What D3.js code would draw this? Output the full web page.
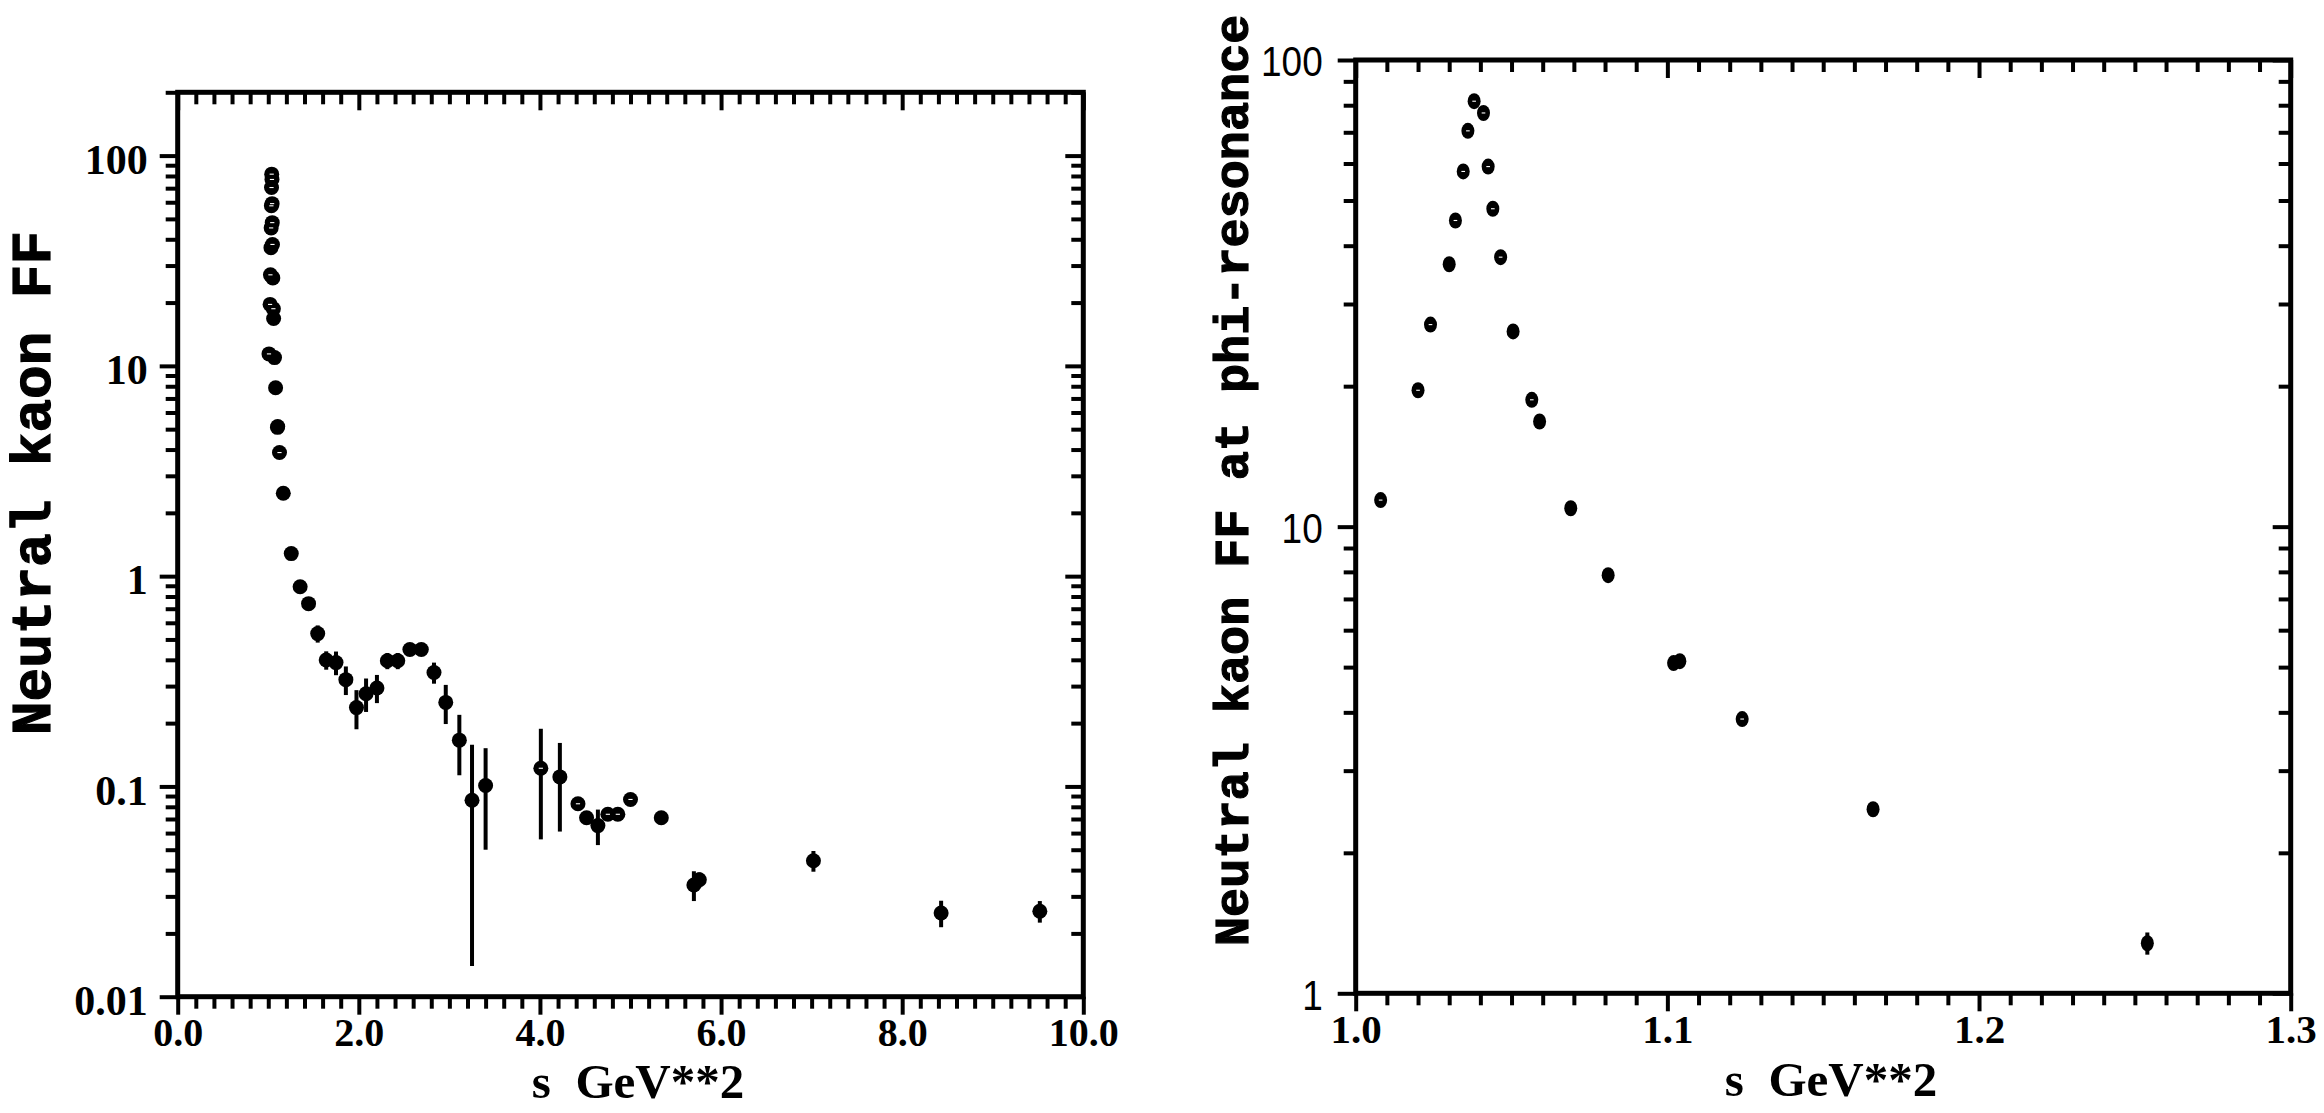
<!DOCTYPE html>
<html><head><meta charset="utf-8">
<script src="https://cdn.jsdelivr.net/npm/d3@7"></script>
<style>body{margin:0;background:#fff}svg{display:block}</style>
</head><body>
<svg id="chart" width="2324" height="1113"></svg>
<script>
// ---- phi-resonance region (shown in both panels) ----
const phiS      = [1.008, 1.020, 1.024, 1.030, 1.032, 1.0345, 1.036, 1.038, 1.041, 1.0425, 1.044, 1.0465, 1.0505, 1.0565, 1.059, 1.069, 1.081, 1.102, 1.104, 1.124, 1.166, 1.254];
const phiFF     = [11.4, 19.6, 27.1, 36.5, 45.3, 57.7, 70.5, 81.6, 77.0, 59.1, 48.0, 37.8, 26.2, 18.7, 16.8, 10.95, 7.87, 5.10, 5.15, 3.87, 2.48, 1.28];
const phiErr    = [0.3, 0.5, 0.6, 1.0, 0.8, 1.0, 1.2, 1.4, 1.3, 1.0, 0.9, 0.8, 0.7, 0.5, 0.5, 0.3, 0.2, 0.15, 0.15, 0.12, 0.08, 0.07];
const phiHollow = [1, 1, 1, 0, 1, 1, 1, 1, 1, 1, 1, 1, 0, 1, 0, 0, 0, 0, 0, 1, 0, 0];

// ---- higher-energy region (left panel only) ----
const highS      = [1.352, 1.445, 1.546, 1.64, 1.748, 1.857, 1.974, 2.08, 2.2, 2.315, 2.43, 2.564, 2.69, 2.83, 2.96, 3.11, 3.25, 3.40, 4.01, 4.22, 4.42, 4.515, 4.64, 4.75, 4.86, 5.0, 5.34, 5.70, 5.76, 7.02, 8.43, 9.52];
const highFF     = [0.89, 0.74, 0.533, 0.399, 0.388, 0.322, 0.237, 0.276, 0.294, 0.396, 0.396, 0.448, 0.448, 0.348, 0.251, 0.166, 0.086, 0.101, 0.122, 0.111, 0.0827, 0.071, 0.0651, 0.0737, 0.0737, 0.0867, 0.071, 0.034, 0.036, 0.0443, 0.025, 0.0255];
const highErr    = [0.03, 0.03, 0.05, 0.04, 0.05, 0.05, 0.05, 0.05, 0.045, 0.035, 0.035, 0.02, 0.02, 0.04, 0.053, 0.053, 0.072, 0.051, 0.066, 0.05, 0.003, 0.003, 0.0125, 0.005, 0.003, 0.003, 0.003, 0.0055, 0.003, 0.005, 0.0036, 0.003];
const highHollow = [0, 0, 0, 0, 0, 0, 0, 0, 0, 0, 0, 0, 0, 0, 0, 0, 0, 0, 1, 0, 1, 0, 0, 1, 1, 1, 0, 0, 0, 0, 0, 0];

// ---- axes ----
const leftXTicks  = [0, 2, 4, 6, 8, 10];
const leftXLabels = ["0.0", "2.0", "4.0", "6.0", "8.0", "10.0"];
const leftYTicks  = [0.01, 0.1, 1, 10, 100];
const leftYLabels = ["0.01", "0.1", "1", "10", "100"];
const rightXTicks  = [1.0, 1.1, 1.2, 1.3];
const rightXLabels = ["1.0", "1.1", "1.2", "1.3"];
const rightYTicks  = [1, 10, 100];
const rightYLabels = ["1", "10", "100"];
const xTitle = "s  GeV**2";
const leftYTitle = "Neutral kaon FF";
const rightYTitle = "Neutral kaon FF at phi-resonance";

const svg = d3.select("#chart");
svg.append("rect").attr("width", 2324).attr("height", 1113).attr("fill", "#fff");

const MINOR = 12, MAJOR = 18;
const serif = "'Liberation Serif', 'Times New Roman', serif";

function frame(g, x0, x1, y0, y1) {
  g.append("rect").attr("x", x0).attr("y", y0).attr("width", x1 - x0).attr("height", y1 - y0)
    .attr("fill", "none").attr("stroke", "#000").attr("stroke-width", 5);
}

function side(g, gen, scale, minorVals, majorVals, transform, labels) {
  const mk = (vals, size, fmtLabels) => {
    const a = gen(scale).tickValues(vals).tickSize(size).tickSizeOuter(0)
      .tickFormat(fmtLabels ? ((d, i) => fmtLabels[i]) : "");
    const ag = g.append("g").attr("transform", transform).style("color", "#000").call(a);
    ag.select(".domain").remove();
    ag.selectAll(".tick line").attr("stroke-width", 4);
    return ag;
  };
  mk(minorVals, MINOR, null);
  return mk(majorVals, MAJOR, labels);
}

function panel(cfg) {
  const g = svg.append("g");
  const x = d3.scaleLinear().domain(cfg.xDomain).range([cfg.x0, cfg.x1]);
  const y = d3.scaleLog().domain(cfg.yDomain).range([cfg.y1, cfg.y0]);

  const yMinor = y.ticks().filter(v => !cfg.yTicks.some(t => Math.abs(t - v) / t < 1e-6));
  const xMinor = x.ticks(cfg.xMinorCount).filter(v => !cfg.xTicks.some(t => Math.abs(t - v) < 1e-9));

  // bottom (outward, labelled)
  const b = side(g, d3.axisBottom, x, xMinor, cfg.xTicks, `translate(0,${cfg.y1})`, cfg.xLabels);
  b.selectAll(".tick text").attr("y", 21).attr("dy", "0.71em")
    .style("font-family", serif).style("font-weight", "bold").style("font-size", cfg.xFont + "px");
  // top (inward)
  side(g, d3.axisBottom, x, xMinor, cfg.xTicks, `translate(0,${cfg.y0})`, null);
  // left (outward, labelled)
  const l = side(g, d3.axisLeft, y, yMinor, cfg.yTicks, `translate(${cfg.x0},0)`, cfg.yLabels);
  cfg.styleY(l.selectAll(".tick text"));
  // right (inward)
  side(g, d3.axisLeft, y, yMinor, cfg.yTicks, `translate(${cfg.x1},0)`, null);

  frame(g, cfg.x0, cfg.x1, cfg.y0, cfg.y1);

  // data
  const pts = cfg.s.map((s, i) => ({ s, v: cfg.ff[i], e: cfg.err[i], h: cfg.hollow[i] }))
    .filter(p => p.s >= cfg.xDomain[0] && p.s <= cfg.xDomain[1]);
  const d = g.append("g");
  d.selectAll("line.err").data(pts).join("line").attr("class", "err")
    .attr("x1", p => x(p.s)).attr("x2", p => x(p.s))
    .attr("y1", p => y(p.v + p.e)).attr("y2", p => y(Math.max(p.v - p.e, cfg.yDomain[0])))
    .attr("stroke", "#000").attr("stroke-width", 4);
  d.selectAll("ellipse").data(pts).join("ellipse")
    .attr("cx", p => x(p.s)).attr("cy", p => y(p.v))
    .attr("rx", cfg.rx).attr("ry", cfg.ry).attr("fill", "#000");
  d.selectAll("line.hole").data(pts.filter(p => p.h)).join("line").attr("class", "hole")
    .attr("x1", p => x(p.s) - cfg.rx * 0.28).attr("x2", p => x(p.s) + cfg.rx * 0.28)
    .attr("y1", p => y(p.v)).attr("y2", p => y(p.v))
    .attr("stroke", "#fff").attr("stroke-width", 1.1);

  // titles
  g.append("text").attr("x", cfg.xTitleX).attr("y", cfg.xTitleY).attr("text-anchor", "middle")
    .style("font-family", serif).style("font-weight", "bold").style("font-size", "49px")
    .style("white-space", "pre").attr("xml:space", "preserve")
    .text(xTitle);
  g.append("text").attr("transform", `translate(${cfg.yTitleX},${cfg.yTitleY}) rotate(-90)`)
    .attr("text-anchor", "start")
    .style("font-family", "'Liberation Mono', 'DejaVu Sans Mono', monospace").style("font-weight", "bold")
    .style("font-size", cfg.yTitleFont + "px").attr("stroke", "#000").attr("stroke-width", 1.2)
    .text(cfg.yTitle);
}

const allS = phiS.concat(highS), allFF = phiFF.concat(highFF),
      allErr = phiErr.concat(highErr), allHollow = phiHollow.concat(highHollow);

panel({
  x0: 177.7, x1: 1083.3, y0: 92.3, y1: 996.7,
  xDomain: [0, 10], yDomain: [0.01, 200], xMinorCount: 50,
  xTicks: leftXTicks, xLabels: leftXLabels, yTicks: leftYTicks, yLabels: leftYLabels,
  xFont: 40,
  styleY: t => t.attr("x", -30).attr("dy", "0.42em")
    .style("font-family", serif).style("font-weight", "bold").style("font-size", "42px"),
  s: allS, ff: allFF, err: allErr, hollow: allHollow, rx: 7.5, ry: 7.5,
  xTitleX: 638, xTitleY: 1098, yTitleX: 50, yTitleY: 735, yTitleFont: 56, yTitle: leftYTitle
});

panel({
  x0: 1355.7, x1: 2290.7, y0: 60, y1: 993.3,
  xDomain: [1.0, 1.3], yDomain: [1, 100], xMinorCount: 30,
  xTicks: rightXTicks, xLabels: rightXLabels, yTicks: rightYTicks, yLabels: rightYLabels,
  xFont: 41,
  styleY: t => t.attr("x", null).attr("dy", "0.38em")
    .attr("transform", "translate(-33,0) scale(0.88,1)")
    .style("font-family", "'Liberation Sans', Arial, sans-serif").style("font-size", "42px"),
  s: phiS, ff: phiFF, err: phiErr, hollow: phiHollow, rx: 6.5, ry: 8,
  xTitleX: 1831, xTitleY: 1096, yTitleX: 1248, yTitleY: 946, yTitleFont: 48.5, yTitle: rightYTitle
});
</script>
</body></html>
